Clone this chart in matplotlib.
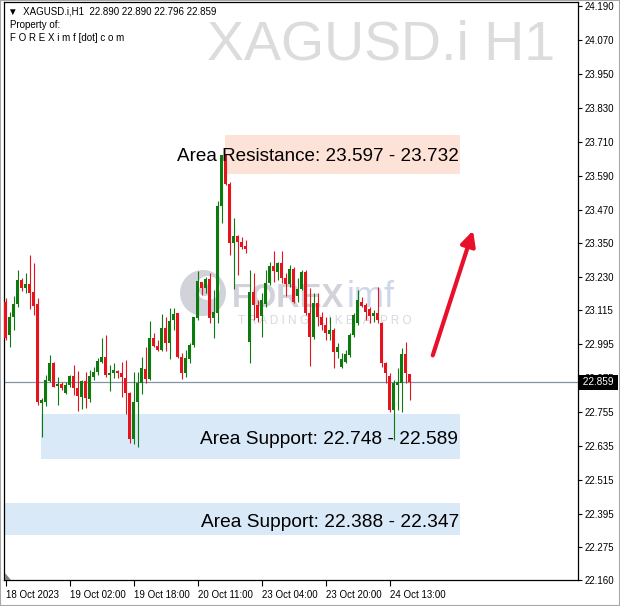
import matplotlib.pyplot as plt
import matplotlib.patches as mpatches
import matplotlib.transforms as mtransforms
import numpy as np

plt.rcParams['font.family'] = ['Liberation Sans', 'DejaVu Sans']

W, H = 620, 606

# hourly candles XAGUSD.i, 18 Oct 10:00 -> 24 Oct 18:00
opens = [23.143, 23.026, 23.090, 23.136, 23.221, 23.193, 23.207, 23.179, 23.136, 22.786,
         22.790, 22.864, 22.927, 22.846, 22.853, 22.821, 22.850, 22.881, 22.839, 22.807,
         22.864, 22.800, 22.878, 22.896, 22.931, 22.949, 22.885, 22.892, 22.899, 22.892,
         22.874, 22.821, 22.659, 22.790, 22.857, 22.906, 22.871, 23.016, 22.988, 22.973,
         23.051, 22.998, 23.079, 23.104, 22.949, 22.892, 22.941, 22.991, 23.087, 23.214,
         23.193, 23.225, 23.087, 23.104, 23.483, 23.663, 23.560, 23.352, 23.377, 23.355,
         23.341, 23.002, 23.179, 23.132, 23.094, 23.136, 23.211, 23.271, 23.249, 23.281,
         23.228, 23.207, 23.260, 23.164, 23.189, 23.249, 23.104, 23.019, 23.140, 23.090,
         23.062, 23.030, 23.044, 22.966, 22.913, 22.931, 22.956, 23.026, 23.069, 23.143,
         23.132, 23.118, 23.094, 23.104, 23.069, 22.927, 22.881, 22.761, 22.850, 22.857,
         22.959, 22.890]
highs = [23.157, 23.108, 23.164, 23.256, 23.228, 23.246, 23.309, 23.281, 23.157, 22.804,
         22.885, 22.956, 22.931, 22.878, 22.860, 22.860, 22.885, 22.920, 22.899, 22.867,
         22.896, 22.903, 22.913, 22.945, 23.016, 23.026, 22.920, 22.927, 22.903, 22.931,
         22.938, 22.825, 22.896, 22.896, 22.949, 22.984, 23.076, 23.034, 23.009, 23.101,
         23.090, 23.122, 23.122, 23.104, 22.963, 22.973, 22.998, 23.090, 23.253, 23.214,
         23.232, 23.246, 23.186, 23.500, 23.663, 23.663, 23.568, 23.440, 23.380, 23.373,
         23.363, 23.256, 23.246, 23.150, 23.175, 23.256, 23.285, 23.324, 23.285, 23.324,
         23.246, 23.274, 23.267, 23.228, 23.256, 23.256, 23.193, 23.175, 23.175, 23.108,
         23.090, 23.090, 23.051, 22.998, 22.963, 22.973, 23.034, 23.104, 23.186, 23.161,
         23.140, 23.125, 23.115, 23.196, 23.072, 22.931, 22.892, 22.867, 22.910, 22.980,
         23.002, 22.890]
lows = [23.009, 22.984, 23.044, 23.125, 23.182, 23.175, 23.118, 23.097, 22.779, 22.666,
        22.775, 22.860, 22.843, 22.779, 22.832, 22.818, 22.843, 22.814, 22.758, 22.765,
        22.768, 22.790, 22.867, 22.885, 22.927, 22.878, 22.828, 22.874, 22.874, 22.807,
        22.747, 22.645, 22.641, 22.630, 22.818, 22.857, 22.867, 22.984, 22.970, 22.970,
        22.970, 22.941, 23.044, 22.945, 22.871, 22.878, 22.927, 22.984, 23.079, 23.168,
        23.175, 23.069, 23.016, 23.069, 23.423, 23.557, 23.309, 23.189, 23.239, 23.331,
        23.317, 22.927, 23.079, 23.072, 23.019, 23.125, 23.204, 23.214, 23.221, 23.211,
        23.164, 23.196, 23.140, 23.143, 23.186, 23.097, 22.917, 23.012, 23.058, 23.044,
        23.009, 23.009, 22.910, 22.945, 22.910, 22.927, 22.949, 23.019, 23.062, 23.125,
        23.079, 23.069, 23.072, 23.069, 22.913, 22.857, 22.754, 22.655, 22.761, 22.754,
        22.857, 22.796]
closes = [23.016, 23.090, 23.136, 23.221, 23.193, 23.207, 23.175, 23.129, 22.790, 22.797,
          22.867, 22.927, 22.843, 22.853, 22.839, 22.850, 22.881, 22.839, 22.811, 22.864,
          22.804, 22.881, 22.896, 22.934, 22.949, 22.885, 22.892, 22.903, 22.892, 22.878,
          22.821, 22.659, 22.790, 22.857, 22.910, 22.871, 23.016, 22.988, 22.973, 23.051,
          22.998, 23.076, 23.101, 22.949, 22.892, 22.945, 22.991, 23.090, 23.218, 23.193,
          23.225, 23.087, 23.108, 23.483, 23.663, 23.560, 23.352, 23.377, 23.355, 23.338,
          23.331, 23.179, 23.132, 23.087, 23.150, 23.211, 23.271, 23.253, 23.281, 23.228,
          23.207, 23.260, 23.143, 23.189, 23.249, 23.104, 23.019, 23.140, 23.090, 23.062,
          23.034, 23.044, 22.966, 22.984, 22.941, 22.959, 23.026, 23.097, 23.150, 23.129,
          23.108, 23.094, 23.104, 23.079, 22.927, 22.892, 22.761, 22.857, 22.860, 22.959,
          22.892, 22.859]

time_tick_bars = [0, 16, 32, 48, 64, 80, 96]
time_tick_labels = ['18 Oct 2023', '19 Oct 02:00', '19 Oct 18:00', '20 Oct 11:00',
                    '23 Oct 04:00', '23 Oct 20:00', '24 Oct 13:00']
price_ticks = [24.190, 24.070, 23.950, 23.830, 23.710, 23.590, 23.470, 23.350, 23.230,
               23.115, 22.995, 22.875, 22.755, 22.635, 22.515, 22.395, 22.275, 22.160]
last_price = 22.859
resistance = (23.597, 23.732)
support1 = (22.589, 22.748)
support2 = (22.347, 22.388)

fig = plt.figure(figsize=(W / 100, H / 100), dpi=100)
ax = fig.add_axes([4 / W, 26 / H, 574 / W, 578 / H])
ax.set_xlim(-0.375, 143.125)
ax.set_ylim(22.160, 24.204)

x = np.arange(len(opens))
o = np.array(opens)
c = np.array(closes)
up = c >= o
cols = np.where(up, '#0c7a0c', '#e5141c')
ax.vlines(x, lows, highs, colors=cols, lw=0.8, zorder=3)
body_h = np.maximum(np.abs(c - o), 0.0035)
ax.bar(x, body_h, bottom=np.minimum(o, c), width=0.75, color=cols, linewidth=0, zorder=4)

# areas
ax.add_patch(mpatches.Rectangle((54.9, resistance[0]), 58.7, resistance[1] - resistance[0],
                                fc='#fde3d7', ec='none', zorder=1))
ax.add_patch(mpatches.Rectangle((8.9, support1[0]), 104.7, support1[1] - support1[0],
                                fc='#dae9f8', ec='none', zorder=1))
ax.add_patch(mpatches.Rectangle((-0.1, 22.319), 113.7, 0.113,
                                fc='#dae9f8', ec='none', zorder=1))

ax.text(113.4, sum(resistance) / 2 - 0.006, 'Area Resistance: %.3f - %.3f' % resistance,
        ha='right', va='center', fontsize=13.6, zorder=5)
ax.text(113.2, sum(support1) / 2 - 0.01, 'Area Support: %.3f - %.3f' % (support1[1], support1[0]),
        ha='right', va='center', fontsize=13.8, zorder=5)
ax.text(113.4, 22.365, 'Area Support: %.3f - %.3f' % (support2[1], support2[0]),
        ha='right', va='center', fontsize=13.8, zorder=5)

ax.axhline(last_price, color='#8494a4', lw=0.9, zorder=2)

ax.annotate('', xy=(117.1, 23.405), xytext=(106.6, 22.945),
            arrowprops=dict(arrowstyle='-|>', color='#e8102a', lw=3, mutation_scale=22),
            zorder=6)

# watermarks
ft = fig.transFigure
ax.text(555 / W, 1 - 60 / H, 'XAGUSD.i H1', transform=ft, ha='right', va='baseline',
        fontsize=40, color='#dcdcdc', zorder=0.5)
ax.text(232 / W, 1 - 307 / H, 'FOREX', transform=ft, ha='left', va='baseline',
        fontsize=23.5, fontweight='bold', color='#d2d2da', zorder=0.5)
ax.text(347 / W, 1 - 307 / H, 'imf', transform=ft, ha='left', va='baseline',
        fontsize=26, color='#ccd8ea', zorder=0.5)
ax.text(238 / W, 1 - 324 / H, 'T R A D I N G   L I K E   A   P R O', transform=ft,
        ha='left', va='baseline', fontsize=8.5, color='#d8d8de', zorder=0.5)
pix = mtransforms.IdentityTransform()
ax.add_patch(mpatches.Circle((203, H - 293), 23, transform=pix, fc='#d2d2da', ec='none', zorder=0.5))
ax.add_patch(mpatches.Circle((208, H - 288), 12, transform=pix, fc='white', ec='none', zorder=0.6))
ax.add_patch(mpatches.Circle((205, H - 290), 6, transform=pix, fc='#d2d2da', ec='none', zorder=0.7))

# axes styling
for s in ax.spines.values():
    s.set_color('black')
    s.set_linewidth(0.9)
ax.yaxis.tick_right()
ax.set_yticks(price_ticks)
ax.set_yticklabels(['%.3f' % v for v in price_ticks])
ax.tick_params(axis='y', direction='out', length=3, width=0.8, pad=2, labelsize=7)
ax.set_xticks(time_tick_bars)
ax.set_xticklabels(time_tick_labels, ha='left')
ax.tick_params(axis='x', direction='out', length=4, width=0.8, pad=3, labelsize=7)
off = mtransforms.ScaledTranslation(1 / 100, 0, fig.dpi_scale_trans)
for lab in ax.get_xticklabels():
    lab.set_transform(lab.get_transform() + off)

ax.text(1.0035, last_price, ' %.3f ' % last_price, transform=ax.get_yaxis_transform(),
        ha='left', va='center', fontsize=7.2, color='white', zorder=10,
        bbox=dict(fc='black', ec='none', pad=1.6))

# header
fig.text(8 / W, 1 - 12 / H, '\u25bc  XAGUSD.i,H1  22.890 22.890 22.796 22.859',
         ha='left', va='center', fontsize=7)
fig.text(10 / W, 1 - 25 / H, 'Property of:', ha='left', va='center', fontsize=7)
fig.text(10 / W, 1 - 38 / H, 'F O R E X i m f [dot] c o m', ha='left', va='center', fontsize=7)

fig.add_artist(mpatches.Polygon([(5, H - 580), (11, H - 580), (5, H - 573)],
                                transform=pix, fc='#808080', ec='none'))
fig.add_artist(mpatches.Rectangle((0, 0), 1, 1, transform=ft, fill=False,
                                  ec='#a8a8a8', lw=1.5))

fig.savefig('out.png', dpi=100)
